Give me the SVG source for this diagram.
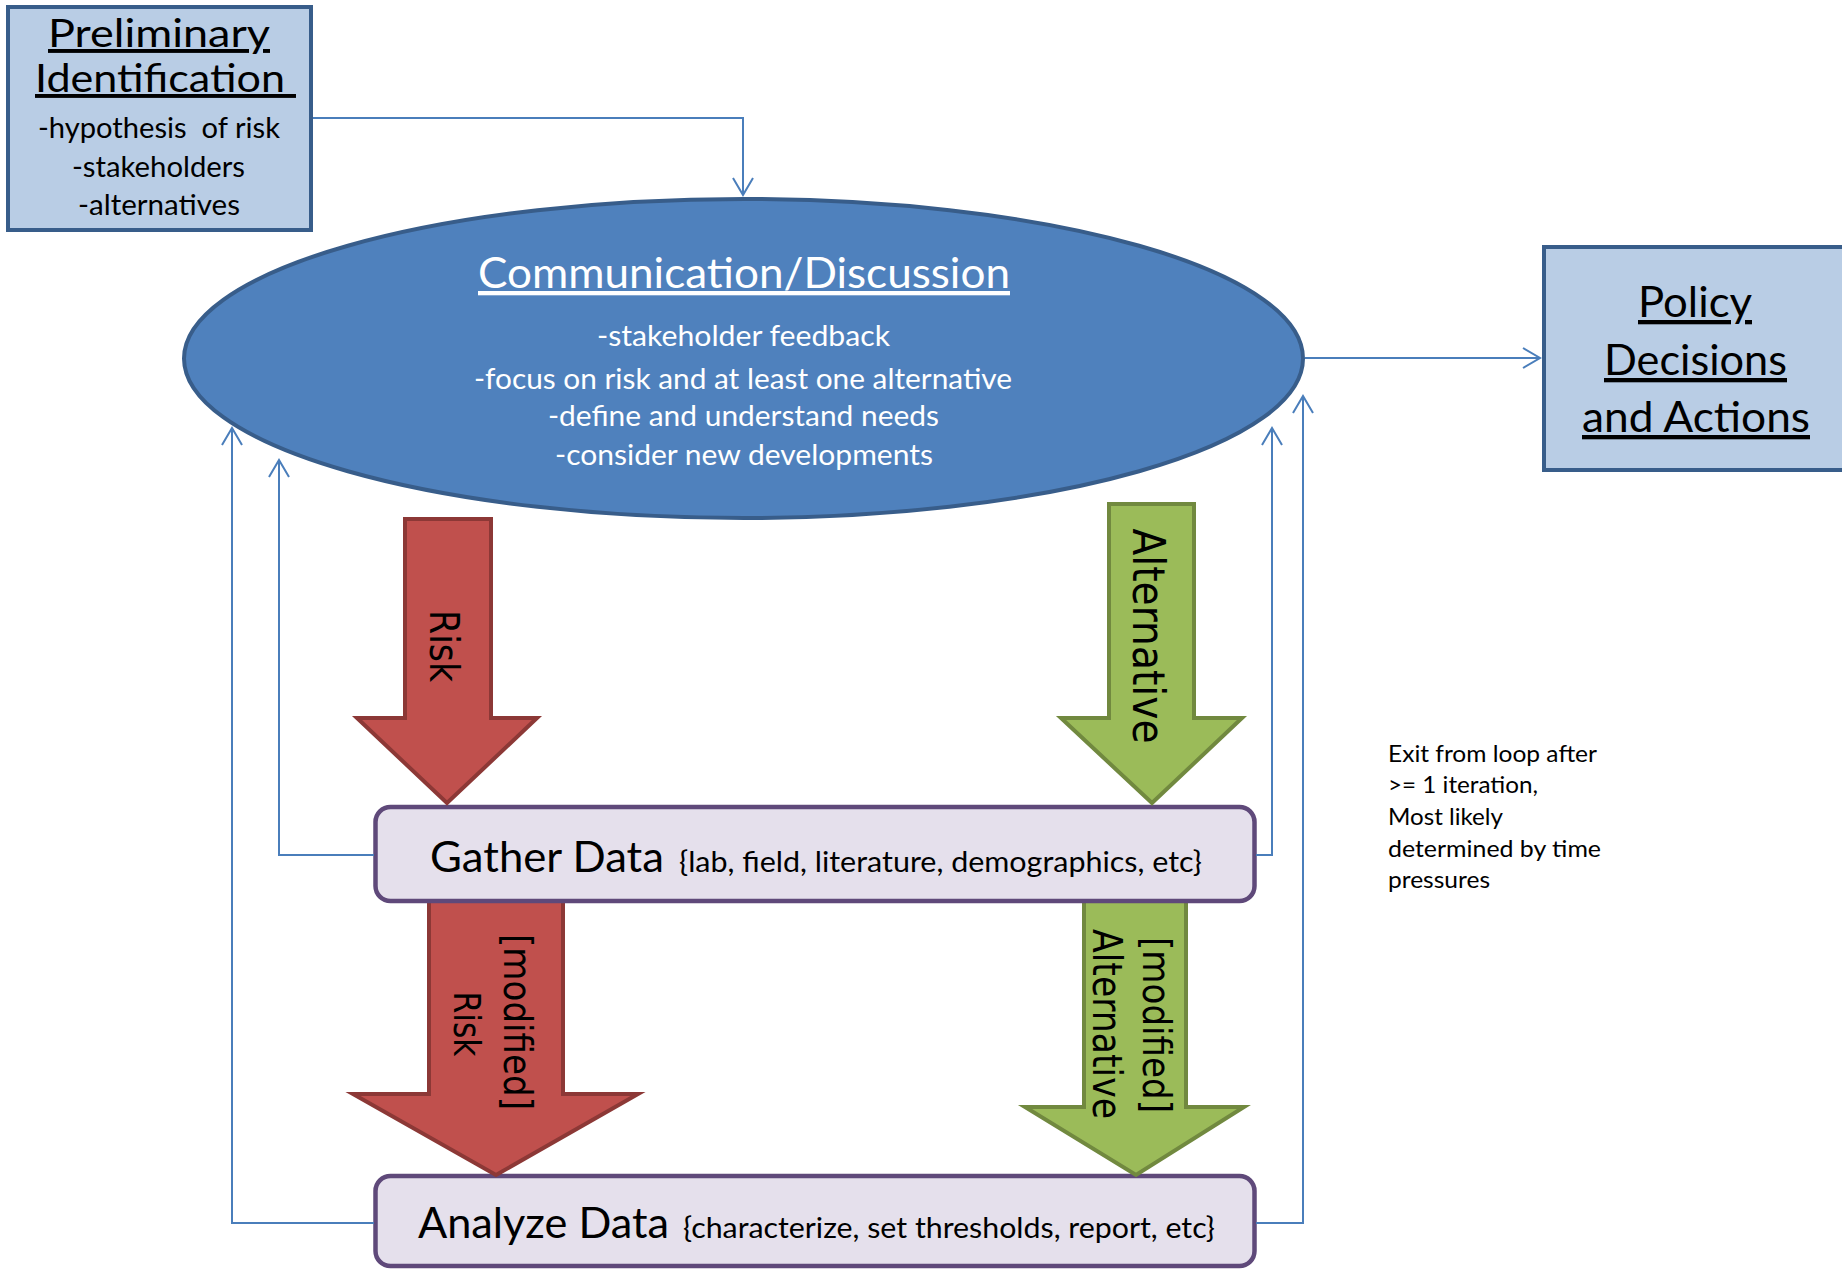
<svg xmlns="http://www.w3.org/2000/svg" width="1842" height="1269" viewBox="0 0 1842 1269">
<defs>
<style>
.lbox{fill:#B9CDE5;stroke:#385D8A;stroke-width:4}
.t{font-family:Lato,"Open Sans",sans-serif;fill:#000}
.w{fill:#fff}
.u{text-decoration:underline}
.big{font-size:43px}
.ttl{font-size:39px}
.mid{font-size:29px}
.sm{font-size:23px}
.pre{white-space:pre}
.conn{fill:none;stroke:#4A7EBB;stroke-width:2}
.red{fill:#C0504D;stroke:#8C3836;stroke-width:4}
.green{fill:#9BBB59;stroke:#71893F;stroke-width:4}
.pbox{fill:#E5E0EC;stroke:#5F497A;stroke-width:4.5}
.rot{font-family:"DejaVu Sans",Verdana,sans-serif;text-anchor:middle;fill:#000}
</style>
<marker id="open" viewBox="0 0 20 22" refX="18" refY="11" markerWidth="20" markerHeight="22" markerUnits="userSpaceOnUse" orient="auto"><path d="M1,1 L18,11 L1,21" fill="none" stroke="#4A7EBB" stroke-width="2"/></marker>
</defs>
<rect x="0" y="0" width="1842" height="1269" fill="#fff"/>

<g id="preliminary">
<rect class="lbox" x="8" y="7" width="303" height="223"/>
<text class="t ttl u" x="48" y="47" textLength="222" lengthAdjust="spacingAndGlyphs">Preliminary</text>
<text class="t ttl u pre" x="35" y="92" textLength="261" lengthAdjust="spacingAndGlyphs">Identification </text>
<text class="t mid pre" x="38" y="138" textLength="242" lengthAdjust="spacingAndGlyphs">-hypothesis  of risk</text>
<text class="t mid" x="72" y="177" textLength="173" lengthAdjust="spacingAndGlyphs">-stakeholders</text>
<text class="t mid" x="78" y="215" textLength="162" lengthAdjust="spacingAndGlyphs">-alternatives</text>
</g>

<g id="communication">
<ellipse cx="743.5" cy="358.5" rx="559.5" ry="159.5" fill="#4F81BD" stroke="#385D8A" stroke-width="4"/>
<text class="t w big u" x="478" y="288" textLength="532" lengthAdjust="spacingAndGlyphs">Communication/Discussion</text>
<text class="t w mid" x="597" y="346" textLength="293" lengthAdjust="spacingAndGlyphs">-stakeholder feedback</text>
<text class="t w mid" x="474" y="389" textLength="538" lengthAdjust="spacingAndGlyphs">-focus on risk and at least one alternative</text>
<text class="t w mid" x="548" y="426" textLength="391" lengthAdjust="spacingAndGlyphs">-define and understand needs</text>
<text class="t w mid" x="555" y="465" textLength="378" lengthAdjust="spacingAndGlyphs">-consider new developments</text>
</g>

<g id="policy">
<rect class="lbox" x="1544" y="247" width="320" height="223"/>
<text class="t big u" x="1638" y="317" textLength="114" lengthAdjust="spacingAndGlyphs">Policy</text>
<text class="t big u" x="1604" y="375" textLength="183" lengthAdjust="spacingAndGlyphs">Decisions</text>
<text class="t big u" x="1582" y="432" textLength="228" lengthAdjust="spacingAndGlyphs">and Actions</text>
</g>

<g id="analyze-data">
<rect class="pbox" x="375.5" y="1176" width="879" height="90" rx="15"/>
<text class="t" x="418" y="1238" font-size="42" textLength="251" lengthAdjust="spacingAndGlyphs">Analyze Data</text>
<text class="t mid" x="683" y="1238" textLength="532" lengthAdjust="spacingAndGlyphs">{characterize, set thresholds, report, etc}</text>
</g>

<g id="modified-risk-arrow">
<polygon class="red" points="429,900 563,900 563,1094 638,1094 496,1175 353,1094 429,1094"/>
<text class="rot" transform="translate(518,1022) rotate(90)" font-size="39" dy="0.36em" textLength="176" lengthAdjust="spacingAndGlyphs">[modified]</text>
<text class="rot" transform="translate(468,1024) rotate(90)" font-size="38" dy="0.36em" textLength="65" lengthAdjust="spacingAndGlyphs">Risk</text>
</g>

<g id="modified-alternative-arrow">
<polygon class="green" points="1084,900 1186,900 1186,1107 1244,1107 1136,1175 1025,1107 1084,1107"/>
<text class="rot" transform="translate(1157,1025) rotate(90)" font-size="39" dy="0.36em" textLength="176" lengthAdjust="spacingAndGlyphs">[modified]</text>
<text class="rot" transform="translate(1107,1024) rotate(90)" font-size="40" dy="0.36em" textLength="190" lengthAdjust="spacingAndGlyphs">Alternative</text>
</g>

<g id="gather-data">
<rect class="pbox" x="375.5" y="807" width="879" height="94" rx="15"/>
<text class="t" x="430" y="872" font-size="42" textLength="234" lengthAdjust="spacingAndGlyphs">Gather Data</text>
<text class="t mid" x="679" y="872" textLength="523" lengthAdjust="spacingAndGlyphs">{lab, field, literature, demographics, etc}</text>
</g>

<g id="risk-arrow">
<polygon class="red" points="405,519 491,519 491,718 537,718 447,803 357,718 405,718"/>
<text class="rot" transform="translate(445,646) rotate(90)" font-size="41" dy="0.36em" textLength="72" lengthAdjust="spacingAndGlyphs">Risk</text>
</g>

<g id="alternative-arrow">
<polygon class="green" points="1109,504 1194,504 1194,718 1242,718 1152,803 1061,718 1109,718"/>
<text class="rot" transform="translate(1149,636) rotate(90)" font-size="44" dy="0.36em" textLength="215" lengthAdjust="spacingAndGlyphs">Alternative</text>
</g>

<g id="exit-note">
<text class="t sm" x="1388" y="762" textLength="209" lengthAdjust="spacingAndGlyphs">Exit from loop after</text>
<text class="t sm" x="1388" y="793" textLength="150" lengthAdjust="spacingAndGlyphs">&gt;= 1 iteration,</text>
<text class="t sm" x="1388" y="825" textLength="115" lengthAdjust="spacingAndGlyphs">Most likely</text>
<text class="t sm" x="1388" y="857" textLength="213" lengthAdjust="spacingAndGlyphs">determined by time</text>
<text class="t sm" x="1388" y="888" textLength="102" lengthAdjust="spacingAndGlyphs">pressures</text>
</g>

<g id="connectors">
<path class="conn" d="M313,118 H743 V195" marker-end="url(#open)"/>
<path class="conn" d="M1305,358 H1540" marker-end="url(#open)"/>
<path class="conn" d="M374,855 H279 V460" marker-end="url(#open)"/>
<path class="conn" d="M374,1223 H232 V428" marker-end="url(#open)"/>
<path class="conn" d="M1256,855 H1272 V428" marker-end="url(#open)"/>
<path class="conn" d="M1256,1223 H1303 V396" marker-end="url(#open)"/>
</g>
</svg>
